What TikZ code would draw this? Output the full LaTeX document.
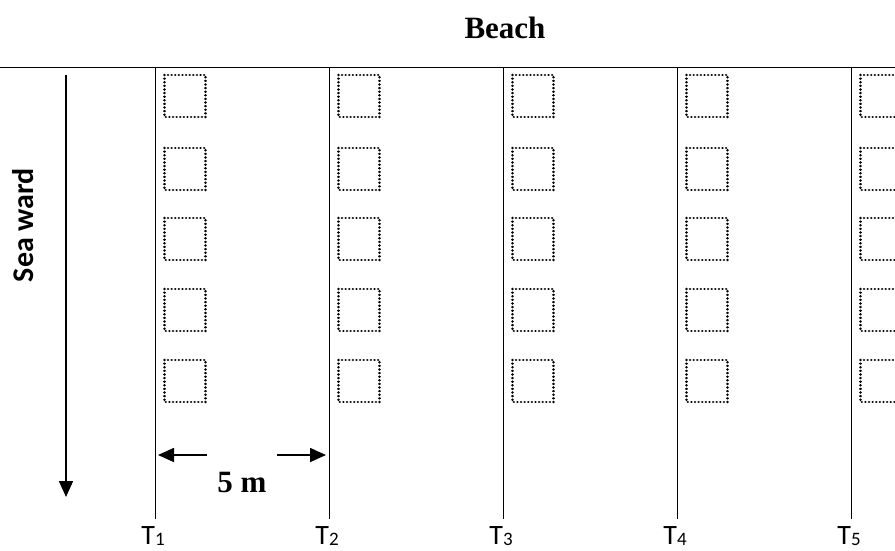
\documentclass[tikz,border=0pt]{standalone}
\usepackage{fontspec}
\setmainfont{Liberation Serif}
\newfontfamily\calib{Carlito}
\usetikzlibrary{arrows.meta}
\tikzset{
  tline/.style={line width=0.8pt, draw=black},
  quadrat/.style={draw=black, line width=2.6pt, line cap=round, dash pattern=on 0.01pt off 3.6pt},
  tlabel/.style={anchor=base, inner sep=0pt, font=\calib\fontsize{28}{28}\selectfont},
  bigarrow/.style={line width=1.6pt, -{Triangle[length=16pt,width=14pt]}},
}
\newcommand{\tsub}[1]{T\raisebox{-1pt}{\fontsize{19}{19}\selectfont #1}}
\begin{document}
\begin{tikzpicture}[x=1pt,y=-1pt]
\useasboundingbox (0,0) rectangle (895,550);
\clip (0,0) rectangle (895,550);
% top beach line
\coordinate (bl) at (0,67);
\coordinate (br) at (895,67);
\draw[tline] (bl) -- (br);
\node[anchor=base, inner sep=0pt, font=\bfseries\fontsize{31}{31}\selectfont] (beach) at (505,38) {Beach};
% transects
\foreach \i/\x in {1/155,2/329,3/503,4/677,5/851}{
  \coordinate (t\i top) at (\x,67);
  \coordinate (t\i bot) at (\x,519);
  \draw[tline] (t\i top) -- (t\i bot);
  \node[tlabel] (lab\i) at (\x-2,544) {\tsub{\i}};
  \foreach \j/\y in {1/75,2/148,3/218,4/289,5/360}{
    \draw[quadrat] (\x+9.5,\y) rectangle (\x+50.5,\y+42);
  }
}
% seaward arrow
\coordinate (sa) at (66,75);
\coordinate (sb) at (66,497);
\draw[bigarrow] (sa) -- (sb);
\node[rotate=90, anchor=base, inner sep=0pt, font=\calib\bfseries\fontsize{30}{30}\selectfont] (sea) at (33,225) {Sea ward};
% 5 m arrows
\coordinate (la) at (207,455);
\coordinate (lb) at (158,455);
\coordinate (ra) at (277,455);
\coordinate (rb) at (326,455);
\draw[bigarrow] (la) -- (lb);
\draw[bigarrow] (ra) -- (rb);
\node[anchor=base, inner sep=0pt, font=\bfseries\fontsize{31}{31}\selectfont] (dist) at (242,492) {5 m};
\end{tikzpicture}
\end{document}
